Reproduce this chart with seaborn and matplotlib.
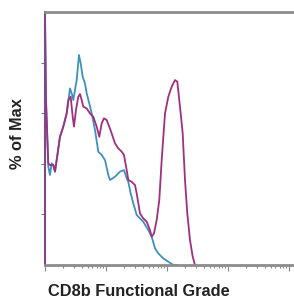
import numpy as np
import pandas as pd
import matplotlib
matplotlib.use("Agg")
import matplotlib.pyplot as plt
import seaborn as sns

# Channel (x) and % of Max (y) values
blue_x = [0, 0, 1, 3.3, 5, 6.7, 8.3, 10, 11.7, 15, 18.3, 21.7, 25, 26.7, 28.3, 30, 31.7, 34, 35.7,
          37.7, 40, 41.7, 44.3, 46.7, 50, 53.3, 56.7, 60, 63.3, 65, 70, 75, 79, 81.7, 83.3, 85.7,
          88.3, 91.7, 95, 98.3, 103.3, 106.7, 110, 113.3, 118.3, 123.3, 128.3, 131.7]
blue_y = [0, 99.5, 65.2, 38.9, 35.6, 40.2, 39.5, 36.9, 41.5, 50.7, 54.7, 59.9, 69.8, 67.9, 65.2, 69.2,
          73.1, 83.0, 79.7, 74.4, 71.8, 67.9, 63.9, 59.9, 53.4, 44.8, 43.5, 41.5, 35.6, 33.6, 34.9,
          36.9, 37.5, 34.3, 32.9, 28.3, 24.4, 19.8, 18.4, 17.1, 13.8, 11.2, 6.6, 4.6, 2.6, 1.3, 0, 0]

purple_x = [0, 0, 1, 3.3, 5, 6.7, 8.3, 10, 11.7, 15, 18.3, 21.7, 23.3, 25.7, 27.7, 29, 31, 33.3, 35,
            36.7, 38.3, 41.7, 45, 48.3, 51.7, 54.3, 56.7, 59, 61.7, 64.3, 66.7, 70, 73.3, 76.7, 79,
            81.7, 83.3, 86.7, 90, 91.7, 95, 98.3, 101.7, 105, 106.7, 109, 111.7, 114.3, 116.7, 120,
            123.3, 126.7, 130, 132.3, 135, 137.7, 140, 142.3, 145, 147.7, 150]
purple_y = [0, 99.5, 65.2, 40.2, 39.5, 39.5, 39.5, 36.9, 41.5, 50.7, 54.7, 59.9, 65.2, 66.5, 58.6,
            54.7, 61.3, 66.5, 67.6, 65.2, 62.6, 61.9, 59.9, 58.6, 54.7, 50.7, 56.0, 58.0, 57.3, 54.7,
            52.0, 48.1, 46.1, 44.8, 43.5, 37.5, 33.6, 32.9, 31.6, 28.3, 20.4, 18.4, 17.1, 13.8, 11.2,
            12.5, 17.8, 25.7, 41.5, 59.9, 66.5, 70.5, 73.1, 72.5, 62.6, 52.0, 33.6, 20.4, 9.9, 3.3, 0]

x_label = "CD8b Functional Grade"
y_label = "% of Max"

sns.set_style("white")
plt.rcParams['font.family'] = ['Liberation Sans', 'DejaVu Sans']

fig = plt.figure(figsize=(2.94, 3.01), dpi=100)
ax = fig.add_axes([0.153, 0.1196, 0.847, 0.8404])

df_b = pd.DataFrame({"x": blue_x, "y": blue_y})
df_p = pd.DataFrame({"x": purple_x, "y": purple_y})
sns.lineplot(data=df_b, x="x", y="y", sort=False, estimator=None, color="#3f8fbf", lw=1.3, ax=ax)
sns.lineplot(data=df_p, x="x", y="y", sort=False, estimator=None, color="#a0307f", lw=1.3, ax=ax)

ax.set_xlim(0, 249)
ax.set_ylim(0, 100)

for s in ["top", "bottom"]:
    ax.spines[s].set_color("#8c8c8c")
    ax.spines[s].set_linewidth(2)
ax.spines["left"].set_color("#7a4a8a")
ax.spines["left"].set_linewidth(1.5)
ax.spines["right"].set_visible(False)

dec = 61
major = [dec * d for d in range(5)]
minor = [dec * (d + np.log10(k)) for d in range(4) for k in range(2, 10)]
ax.set_xticks(major)
ax.set_xticks(minor, minor=True)
ax.set_xticklabels([])
ax.set_yticks([20, 40, 60, 80])
ax.set_yticklabels([])
ax.tick_params(axis="x", which="major", direction="out", length=4, width=0.8, color="#888888", bottom=True)
ax.tick_params(axis="x", which="minor", direction="out", length=2, width=0.8, color="#888888", bottom=True)
ax.tick_params(axis="y", direction="out", length=3, width=0.8, color="#777777", left=True)

ax.set_xlabel(x_label, fontsize=11.8, fontweight="bold", color="#222222")
ax.set_ylabel(y_label, fontsize=11.8, fontweight="bold", color="#222222")
ax.xaxis.set_label_coords(0.375, -0.075)
ax.yaxis.set_label_coords(-0.08, 0.52)

fig.savefig("out.png", dpi=100)
